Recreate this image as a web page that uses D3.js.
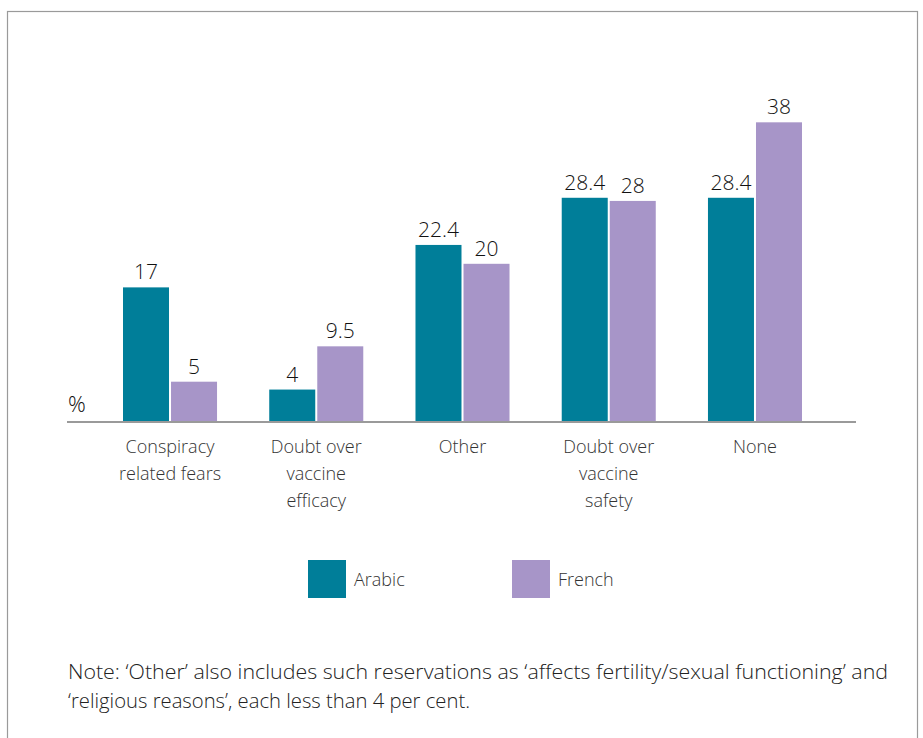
<!DOCTYPE html>
<html>
<head>
<meta charset="utf-8">
<script src="https://cdn.jsdelivr.net/npm/d3@7"></script>
<style>
  html, body { margin: 0; padding: 0; background: #fff; }
  svg { display: block; }
  text { font-family: "Open Sans", "Noto Sans", sans-serif; }
</style>
</head>
<body>
<svg id="chart"></svg>
<script>
const categories = [
    ['Conspiracy', 'related fears'],
    ['Doubt over', 'vaccine', 'efficacy'],
    ['Other'],
    ['Doubt over', 'vaccine', 'safety'],
    ['None']
];
const series = ['Arabic', 'French'];
const arabicValues = [17, 4, 22.4, 28.4, 28.4];
const frenchValues = [5, 9.5, 20, 28, 38];
const valueLabels = [['17', '5'], ['4', '9.5'], ['22.4', '20'], ['28.4', '28'], ['28.4', '38']];
const noteLines = [
    'Note: \u2018Other\u2019 also includes such reservations as \u2018affects fertility/sexual functioning\u2019 and',
    '\u2018religious reasons\u2019, each less than 4 per cent.'
];

const colors = { Arabic: '#007e99', French: '#a795c8' };
const width = 923, height = 738;
const svg = d3.select('#chart').attr('width', width).attr('height', height);

// frame
svg.append('rect')
    .attr('x', 7.5).attr('y', 11.5)
    .attr('width', 910).attr('height', 760)
    .attr('fill', 'none')
    .attr('stroke', '#9a9a9a')
    .attr('stroke-width', 1.2);

const data = categories.map((c, i) => ({
    key: i,
    label: c,
    values: [
        { s: 'Arabic', v: arabicValues[i], t: valueLabels[i][0] },
        { s: 'French', v: frenchValues[i], t: valueLabels[i][1] }
    ]
}));

const baseY = 421;
const x0 = d3.scaleBand().domain(d3.range(categories.length)).range([123, 802]).paddingInner(0.357).paddingOuter(0);
const x1 = d3.scaleBand().domain(series).range([0, x0.bandwidth()]).paddingInner(0.042);
const y = d3.scaleLinear().domain([0, 40]).range([baseY, baseY - 40 * 7.86]);

const groups = svg.append('g').selectAll('g').data(data).enter().append('g')
    .attr('transform', d => 'translate(' + x0(d.key) + ',0)');

groups.selectAll('rect').data(d => d.values).enter().append('rect')
    .attr('x', d => x1(d.s))
    .attr('y', d => y(d.v))
    .attr('width', x1.bandwidth())
    .attr('height', d => y(0) - y(d.v))
    .attr('fill', d => colors[d.s]);

groups.selectAll('text.val').data(d => d.values).enter().append('text')
    .attr('class', 'val')
    .attr('x', d => x1(d.s) + x1.bandwidth() / 2)
    .attr('y', d => y(d.v) - 8)
    .attr('text-anchor', 'middle')
    .attr('font-size', 21)
    .attr('font-weight', 300)
    .attr('fill', '#111')
    .text(d => d.t);

// axis line
svg.append('line')
    .attr('x1', 67).attr('x2', 856)
    .attr('y1', baseY + 1).attr('y2', baseY + 1)
    .attr('stroke', '#9a9a9a')
    .attr('stroke-width', 2);

svg.append('text')
    .attr('x', 68).attr('y', 412)
    .attr('font-size', 22)
    .attr('font-weight', 300)
    .attr('fill', '#111')
    .text('%');

// category labels
groups.append('text')
    .attr('x', x0.bandwidth() / 2)
    .attr('y', 453)
    .attr('text-anchor', 'middle')
    .attr('font-size', 18)
    .attr('font-weight', 300)
    .attr('fill', '#333')
    .selectAll('tspan').data(d => d.label).enter().append('tspan')
    .attr('x', x0.bandwidth() / 2)
    .attr('dy', (d, i) => i === 0 ? 0 : 27)
    .text(d => d);

// legend
const legendX = d3.scaleOrdinal().domain(series).range([308, 512]);
const legend = svg.append('g').selectAll('g').data(series).enter().append('g')
    .attr('transform', d => 'translate(' + legendX(d) + ',560)');
legend.append('rect')
    .attr('width', 38).attr('height', 38)
    .attr('fill', d => colors[d]);
legend.append('text')
    .attr('x', 46).attr('y', 26)
    .attr('font-size', 18)
    .attr('font-weight', 300)
    .attr('fill', '#333')
    .text(d => d);

// note
svg.append('g').selectAll('text').data(noteLines).enter().append('text')
    .attr('x', 68)
    .attr('y', (d, i) => 679 + i * 29)
    .attr('font-size', 20)
    .attr('font-weight', 300)
    .attr('fill', '#222')
    .attr('textLength', (d, i) => i === 0 ? 820 : 402)
    .attr('lengthAdjust', 'spacingAndGlyphs')
    .text(d => d);
</script>
</body>
</html>
